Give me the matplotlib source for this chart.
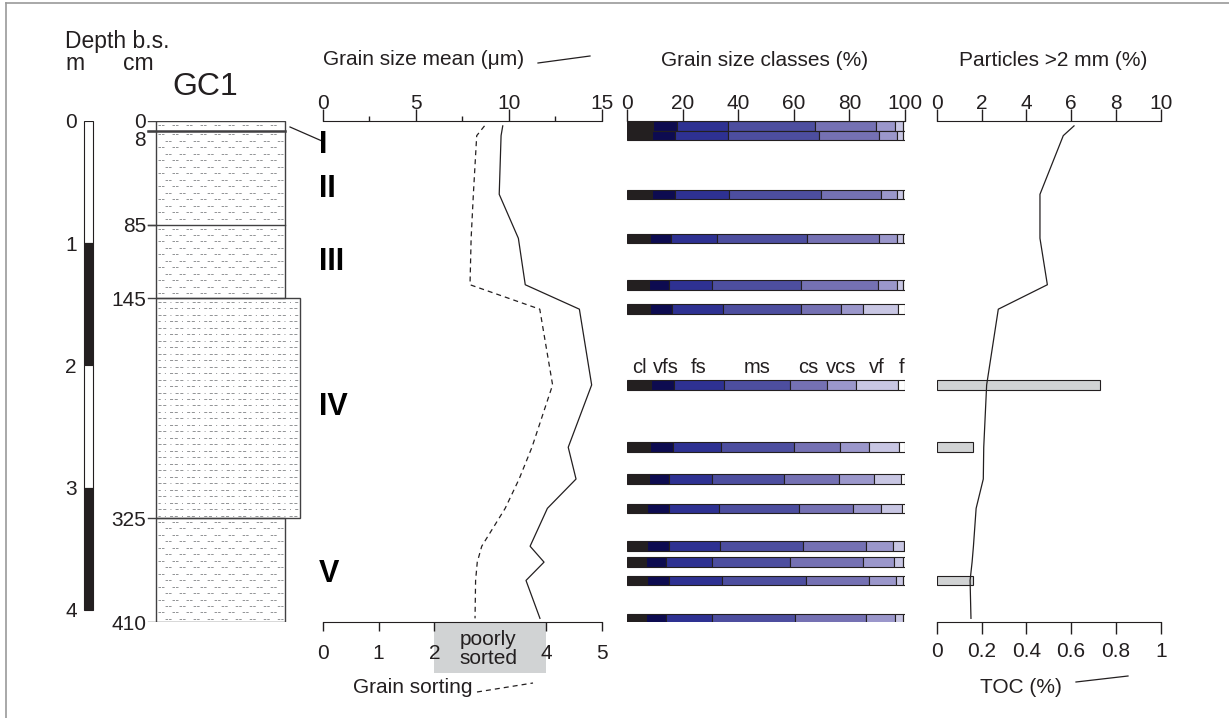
import matplotlib
matplotlib.use('Agg')
import matplotlib.pyplot as plt
import matplotlib.transforms as mtransforms
from matplotlib.patches import Rectangle
from matplotlib.lines import Line2D
import numpy as np

plt.rcParams['font.family'] = ['Liberation Sans', 'DejaVu Sans']
plt.rcParams['lines.scale_dashes'] = False

INK = '#231f20'

# === data ===
depth_cm = [4, 12, 60, 96, 134, 154, 216, 267, 293, 317, 348, 361, 376, 407]
grain_mean = [9.68, 9.59, 9.49, 10.52, 10.89, 13.80, 14.46, 13.20, 13.62, 12.08, 11.15, 11.90, 10.93, 11.68]
grain_sorting = [2.90, 2.76, 2.70, 2.66, 2.64, 3.89, 4.12, 3.75, 3.52, 3.27, 2.85, 2.77, 2.74, 2.73]
toc = [0.613, 0.565, 0.461, 0.461, 0.494, 0.275, 0.223, 0.210, 0.208, 0.176, 0.164, 0.158, 0.149, 0.153]
particles = [0, 0, 0, 0, 0, 0, 7.3, 1.6, 0, 0, 0, 0, 1.6, 0]

class_names = ['cl', 'vfs', 'fs', 'ms', 'cs', 'vcs', 'vf', 'f']
cl = [9.4, 8.8, 8.8, 8.2, 7.9, 8.2, 8.4, 8.2, 7.8, 7.0, 7.0, 6.6, 7.0, 6.7]
vfs = [8.6, 8.5, 8.5, 7.4, 7.0, 8.0, 8.5, 8.4, 7.2, 8.1, 8.1, 7.3, 8.1, 7.2]
fs = [18.4, 19.1, 19.4, 16.6, 15.7, 18.4, 17.8, 17.3, 15.6, 18.0, 18.3, 16.5, 18.9, 16.7]
ms = [31.2, 32.8, 32.9, 32.6, 31.8, 28.1, 24.0, 26.0, 25.9, 28.7, 30.0, 28.3, 30.3, 29.8]
cs = [21.8, 21.6, 21.6, 26.0, 28.0, 14.3, 13.1, 16.7, 19.9, 19.4, 22.7, 26.3, 22.9, 25.6]
vcs = [7.0, 6.2, 6.0, 6.4, 6.8, 7.8, 10.6, 10.6, 12.6, 10.0, 9.4, 11.2, 9.6, 10.4]
vf = [3.0, 2.4, 2.2, 2.2, 2.2, 12.5, 15.0, 10.6, 9.5, 7.6, 4.0, 3.2, 2.6, 3.0]
f = [0.6, 0.6, 0.6, 0.6, 0.6, 2.8, 2.6, 2.2, 1.6, 1.2, 0.6, 0.6, 0.6, 0.6]
class_colors = ['#231f20', '#0d0b50', '#2e3192', '#4d4e9f', '#7571b3', '#9b97cb', '#c8c6e3', '#ffffff']

unit_names = ['I', 'II', 'III', 'IV', 'V']
unit_top = [0, 8, 85, 145, 325]
unit_base = [8, 85, 145, 325, 410]
meter_ticks = [0, 1, 2, 3, 4]

mean_ticks = [0, 5, 10, 15]
sort_ticks = [0, 1, 2, 4, 5]   # 3 is hidden under the "poorly sorted" box
class_ticks = [0, 20, 40, 60, 80, 100]
part_ticks = [0, 2, 4, 6, 8, 10]
toc_ticks = [0, 0.2, 0.4, 0.6, 0.8, 1]
toc_labels = ['0', '0.2', '0.4', '0.6', '0.8', '1']

# === figure & helpers ===
W, H = 1229, 718
fig = plt.figure(figsize=(W / 100, H / 100), dpi=100)
px = mtransforms.Affine2D().scale(1 / W, -1 / H).translate(0, 1) + fig.transFigure
Y0, Y1 = 121, 622  # depth 0 / 410 cm in pixels


def add_axes_px(x0, x1):
    ax = fig.add_axes([x0 / W, 1 - Y1 / H, (x1 - x0) / W, (Y1 - Y0) / H])
    ax.set_facecolor('none')
    ax.set_ylim(410, 0)
    for s in ax.spines.values():
        s.set_visible(False)
    ax.tick_params(left=False, labelleft=False, bottom=False, labelbottom=False)
    return ax


def make_twin(ax):
    tw = ax.twiny()
    tw.set_facecolor('none')
    for s in tw.spines.values():
        s.set_visible(False)
    tw.set_ylim(410, 0)
    return tw


def top_axis(ax, ticks, length=8.9):
    ax.spines['top'].set_visible(True)
    ax.spines['top'].set_color(INK)
    ax.xaxis.set_ticks_position('top')
    ax.xaxis.set_label_position('top')
    ax.set_xticks(ticks)
    ax.tick_params(axis='x', which='major', direction='out', length=length, width=1.0,
                   color=INK, labelcolor=INK, labelsize=15, pad=-3.0, top=True, labeltop=True,
                   bottom=False, labelbottom=False)


def bottom_axis(ax, ticks, length, pad):
    ax.spines['bottom'].set_visible(True)
    ax.spines['bottom'].set_color(INK)
    ax.xaxis.set_ticks_position('bottom')
    ax.xaxis.set_label_position('bottom')
    ax.set_xticks(ticks)
    ax.tick_params(axis='x', which='major', direction='out', length=length, width=1.0,
                   color=INK, labelcolor=INK, labelsize=15, pad=pad, bottom=True,
                   labelbottom=True, top=False, labeltop=False)


def ftext(x, y, s, **kw):
    kw.setdefault('color', INK)
    kw.setdefault('fontsize', 15)
    fig.text(x, y, s, transform=px, **kw)


def fline(xs, ys, **kw):
    kw.setdefault('color', INK)
    kw.setdefault('lw', 0.9)
    fig.add_artist(Line2D(xs, ys, transform=px, **kw))


# outer frame (only top and left visible in the crop)
fline([6, 6], [3, 718], color='#9a9a9a', lw=1.2)
fline([6, 1229], [3, 3], color='#9a9a9a', lw=1.2)

# === 1. core log ===
ax_l = add_axes_px(0, 320)
ax_l.set_xlim(0, 320)

# meter scale bar
for i in range(len(meter_ticks) - 1):
    ax_l.add_patch(Rectangle((84, meter_ticks[i] * 100), 9, 100,
                             facecolor=INK if i % 2 else 'white', edgecolor=INK, lw=0.8))
for m in meter_ticks:
    ax_l.text(77, m * 100, str(m), ha='right', va='center_baseline', fontsize=15, color=INK)

# lithology pattern
for name, top, base in zip(unit_names, unit_top, unit_base):
    x1 = 300 if name == 'IV' else 285
    rows = np.arange(top + 3.0, base - 1.5, 5.3)
    for r, y in enumerate(rows):
        if name == 'IV':
            ls = ((r % 2) * 4.0, (2.2, 1.2, 2.2, 3.0, 0.7, 3.0))
        else:
            ls = ((r % 2) * 5.0, (1.8, 0.7, 1.8, 5.8))
        ax_l.plot([158, x1 - 2], [y, y], color='#808285', lw=0.6, ls=ls)

# unit boxes
ax_l.add_patch(Rectangle((156, 0), 129, 145, fill=False, edgecolor='#414042', lw=1.0))
ax_l.add_patch(Rectangle((156, 145), 144, 180, fill=False, edgecolor='#414042', lw=1.0))
ax_l.add_patch(Rectangle((156, 325), 129, 85, fill=False, edgecolor='#414042', lw=1.0))
ax_l.plot([148, 285], [8, 8], color='#414042', lw=1.8)
ax_l.plot([148, 285], [85, 85], color='#414042', lw=1.0)
bounds = [0, 8, 85, 145, 325, 410]
for b in bounds:
    ax_l.plot([148, 156], [b, b], color='#414042', lw=1.0)
    ax_l.text(146, b, str(b), ha='right', va='top' if b == 8 else 'center_baseline',
              fontsize=15, color=INK)

ftext(65, 48, 'Depth b.s.', fontsize=16.5)
ftext(65, 70, 'm', fontsize=16.5)
ftext(123, 70, 'cm', fontsize=16.5)
ftext(172, 95, 'GC1', fontsize=23)

# === 2. grain size mean / sorting ===
ax_m = add_axes_px(322.7, 601.7)
ax_s = make_twin(ax_m)
ax_m.set_xlim(0, 15)
top_axis(ax_m, mean_ticks)
ax_m.set_xticks([2.5, 7.5, 12.5], minor=True)
ax_m.tick_params(axis='x', which='minor', direction='out', length=3.4, width=1.0, color=INK,
                 top=True, bottom=False)
ax_m.plot(grain_mean, depth_cm, color=INK, lw=0.9)

ax_s.set_xlim(0, 5)
bottom_axis(ax_s, sort_ticks, length=6.7, pad=9)
ax_s.plot(grain_sorting, depth_cm, color=INK, lw=0.9, ls=(0, (3.6, 2.9)))
btr = mtransforms.blended_transform_factory(ax_s.transData, px)
ax_s.add_patch(Rectangle((2, 622.5), 2, 50.5, transform=btr, facecolor='#d1d3d4',
                         edgecolor='none', clip_on=False, zorder=0.5))
ftext(488, 649, 'poorly\nsorted', ha='center', va='center', linespacing=1.0)

ftext(322.7, 65, 'Grain size mean (\u03bcm)')
fline([538, 590], [63, 56])
ftext(353, 693, 'Grain sorting')
fline([477, 533], [692, 683], ls=(0, (3.6, 2.9)))

# unit numerals and leader line
unit_baseline_px = [153, 197, 270, 415, 582]
for name, yb in zip(unit_names, unit_baseline_px):
    ftext(319, yb, name, fontsize=22, fontweight='bold', color='#000000')
fline([290, 322], [127, 141], lw=0.9)

# === 3. grain size classes ===
ax_c = add_axes_px(627.3, 905)
ax_c.set_xlim(0, 100)
top_axis(ax_c, class_ticks, length=8.5)
classes = [cl, vfs, fs, ms, cs, vcs, vf, f]
left = np.zeros(len(depth_cm))
for vals, col in zip(classes, class_colors):
    ax_c.barh(depth_cm, vals, left=left, height=7.8, color=col, edgecolor=INK, lw=0.8)
    left += np.array(vals)

# class legend on the sample at 216 cm
k = depth_cm.index(216)
nudge = {'vfs': 1.4}
cum = 0.0
for name, vals in zip(class_names, classes):
    ax_c.text(cum + vals[k] / 2 + nudge.get(name, 0), depth_cm[k] - 10, name, ha='center',
              va='baseline', fontsize=14.5, color=INK)
    cum += vals[k]
ftext(765, 66.5, 'Grain size classes (%)', ha='center')

# === 4. particles >2 mm and TOC ===
ax_p = add_axes_px(936.7, 1160.7)
ax_t = make_twin(ax_p)
ax_p.set_xlim(0, 10)
top_axis(ax_p, part_ticks)
pd_ = [d for d, v in zip(depth_cm, particles) if v > 0]
pv_ = [v for v in particles if v > 0]
ax_p.barh(pd_, pv_, height=7.8, color='#d1d3d4', edgecolor=INK, lw=0.8)

ax_t.set_xlim(0, 1)
bottom_axis(ax_t, toc_ticks, length=8.4, pad=6.3)
ax_t.set_xticklabels(toc_labels)
ax_t.plot(toc, depth_cm, color=INK, lw=0.9)

ftext(959, 66, 'Particles >2 mm (%)')
ftext(980, 693, 'TOC (%)')
fline([1076, 1128], [682, 676])

fig.savefig('out.png', dpi=100)
